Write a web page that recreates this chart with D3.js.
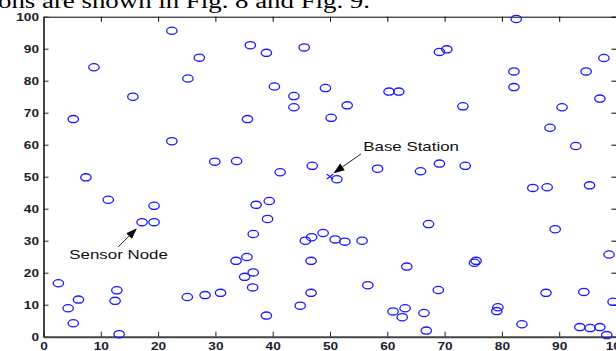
<!DOCTYPE html>
<html>
<head>
<meta charset="utf-8">
<script src="https://cdn.jsdelivr.net/npm/d3@7"></script>
<style>
  html, body { margin: 0; padding: 0; background: #fff; overflow: hidden; }
  svg { display: block; }
</style>
</head>
<body>
<div id="chart"></div>
<script>
// Sensor node positions (field units, 0..100).
const NODE_X = [22.4, 8.8, 27.2, 25.2, 15.6, 5.2, 36.1, 38.9, 45.5, 40.3,
    43.7, 43.7, 49.2, 53.0, 60.3, 62.0, 35.6, 50.2, 82.5, 69.1,
    70.4, 97.8, 82.1, 94.7, 82.1, 97.1, 73.2, 90.5, 22.4, 7.4,
    11.3, 19.3, 17.2, 19.3, 29.9, 33.7, 41.3, 46.9, 51.2, 58.3,
    37.1, 39.4, 39.1, 88.4, 92.9, 65.8, 69.1, 73.6, 85.4, 87.9,
    95.3, 67.2, 89.3, 2.6, 4.3, 6.1, 5.2, 12.8, 12.5, 13.2,
    25.1, 28.2, 30.9, 36.6, 33.6, 35.5, 35.1, 36.6, 36.5, 38.9,
    45.7, 46.8, 48.8, 50.9, 52.6, 55.6, 46.7, 46.7, 44.8, 56.6,
    63.4, 61.0, 63.1, 62.6, 98.7, 75.2, 75.5, 68.9, 87.7, 94.3,
    66.4, 66.8, 79.3, 79.1, 83.5, 93.6, 95.4, 97.1, 98.3, 99.4];
const NODE_Y = [95.6, 84.2, 87.2, 80.7, 75.0, 68.0, 91.1, 88.7, 90.4, 78.2,
    75.2, 71.7, 77.7, 72.3, 76.6, 76.6, 68.0, 68.4, 99.3, 89.0,
    89.8, 87.1, 82.9, 82.9, 78.0, 74.4, 72.0, 71.7, 61.1, 49.8,
    42.8, 40.9, 35.8, 35.8, 54.7, 54.9, 51.4, 53.4, 49.2, 52.5,
    41.2, 42.4, 36.8, 65.3, 59.6, 51.7, 54.1, 53.4, 46.5, 46.7,
    47.3, 35.2, 33.6, 16.7, 8.9, 11.6, 4.2, 14.5, 11.2, 0.8,
    12.4, 13.0, 13.7, 32.1, 23.7, 24.9, 18.7, 20.1, 15.4, 6.6,
    30.0, 31.1, 32.4, 30.4, 29.7, 30.0, 23.7, 13.7, 9.7, 16.1,
    21.9, 7.9, 8.9, 6.1, 25.7, 23.1, 23.7, 14.6, 13.7, 14.0,
    7.4, 1.9, 9.2, 8.0, 3.9, 3.0, 2.7, 3.0, 0.5, 10.9];
const BASE_STATION = [50, 50];
const X_TICKS = [0, 10, 20, 30, 40, 50, 60, 70, 80, 90, 100];
const Y_TICKS = [0, 10, 20, 30, 40, 50, 60, 70, 80, 90, 100];

// annotation text, arrow tail and arrow tip in data units
const LABELS = ["Base Station", "Sensor Node"];
const LABEL_POS = [[55.8, 58.0], [4.5, 24.3]];
const ARROW_FROM = [[55.4, 57.1], [13.05, 28.1]];
const ARROW_TO = [[50.6, 51.1], [16.3, 33.9]];

const W = 616, H = 351;
const PLOT = { left: 43.5, right: 616.5, top: 16.7, bottom: 336.7 };
const SX = 1.3; // the source picture is stretched sideways

const svg = d3.select("#chart").append("svg")
    .attr("width", W)
    .attr("height", H);

// caption line from the paper, cut by the top edge
svg.append("text")
    .attr("x", -2)
    .attr("y", 8)
    .attr("textLength", 372)
    .attr("lengthAdjust", "spacingAndGlyphs")
    .style("font-family", "'Liberation Serif', 'Times New Roman', serif")
    .style("font-size", "20px")
    .style("fill", "#000")
    .text("ons are shown in Fig. 8 and Fig. 9.");

const x = d3.scaleLinear().domain([0, 100]).range([PLOT.left, PLOT.right]);
const y = d3.scaleLinear().domain([0, 100]).range([PLOT.bottom, PLOT.top]);

// top and right frame, ticks only
svg.append("g")
    .attr("transform", `translate(0,${PLOT.top})`)
    .call(d3.axisTop(x).tickValues(X_TICKS).tickSizeInner(-5).tickSizeOuter(0).tickFormat(""))
    .call(g => g.select(".domain").attr("stroke", "#000").attr("stroke-width", 1));
svg.append("g")
    .attr("transform", `translate(${PLOT.right},0)`)
    .call(d3.axisRight(y).tickValues(Y_TICKS).tickSizeInner(-5).tickSizeOuter(0).tickFormat(""))
    .call(g => g.select(".domain").attr("stroke", "#000").attr("stroke-width", 1));

function styleLabels(g, tx, ty) {
    g.selectAll(".tick text")
        .attr("x", null).attr("y", null).attr("dy", null)
        .attr("transform", `translate(${tx},${ty}) scale(${SX},1)`)
        .style("font-family", "'Liberation Sans', Arial, sans-serif")
        .style("font-size", "10.5px")
        .style("font-weight", "bold")
        .style("fill", "#1c1c30");
}

// left axis
svg.append("g")
    .attr("transform", `translate(${PLOT.left},0)`)
    .call(d3.axisLeft(y).tickValues(Y_TICKS).tickSizeInner(-5).tickSizeOuter(0))
    .call(g => g.select(".domain").attr("stroke", "#444").attr("stroke-width", 2))
    .call(g => g.selectAll(".tick line").attr("stroke", "#222"))
    .call(g => styleLabels(g, -4.5, 3.8));

// bottom axis
svg.append("g")
    .attr("transform", `translate(0,${PLOT.bottom})`)
    .call(d3.axisBottom(x).tickValues(X_TICKS).tickSizeInner(-5).tickSizeOuter(0))
    .call(g => g.select(".domain").attr("stroke", "#444").attr("stroke-width", 2))
    .call(g => g.selectAll(".tick line").attr("stroke", "#222"))
    .call(g => styleLabels(g, 0, 13));

// sensor nodes
svg.append("g")
    .selectAll("ellipse")
    .data(d3.range(NODE_X.length))
    .join("ellipse")
    .attr("cx", i => x(NODE_X[i]))
    .attr("cy", i => y(NODE_Y[i]))
    .attr("rx", 5.2)
    .attr("ry", 3.6)
    .attr("fill", "none")
    .attr("stroke", "#1a1aff")
    .attr("stroke-width", 1.3);

// base station marker
svg.append("path")
    .attr("d", d3.symbol(d3.symbolX, 18)())
    .attr("transform", `translate(${x(BASE_STATION[0])},${y(BASE_STATION[1])}) scale(${SX},1)`)
    .attr("fill", "none")
    .attr("stroke", "#1a1aff")
    .attr("stroke-width", 1.1);

// annotations
LABELS.forEach((label, i) => {
    const x0 = x(ARROW_FROM[i][0]), y0 = y(ARROW_FROM[i][1]);
    const x1 = x(ARROW_TO[i][0]), y1 = y(ARROW_TO[i][1]);
    const a = Math.atan2(y1 - y0, x1 - x0);
    const len = 11, half = 4;
    const bx = x1 - len * Math.cos(a), by = y1 - len * Math.sin(a);
    svg.append("line")
        .attr("x1", x0).attr("y1", y0)
        .attr("x2", bx).attr("y2", by)
        .attr("stroke", "#222")
        .attr("stroke-width", 1);
    svg.append("path")
        .attr("d", `M${x1},${y1}L${bx - half * Math.sin(a)},${by + half * Math.cos(a)}` +
            `L${bx + half * Math.sin(a)},${by - half * Math.cos(a)}Z`)
        .attr("fill", "#000");
    svg.append("text")
        .attr("transform", `translate(${x(LABEL_POS[i][0])},${y(LABEL_POS[i][1])}) scale(${SX},1)`)
        .style("font-family", "'Liberation Sans', Arial, sans-serif")
        .style("font-size", "13px")
        .style("fill", "#111")
        .text(label);
});
</script>
</body>
</html>
